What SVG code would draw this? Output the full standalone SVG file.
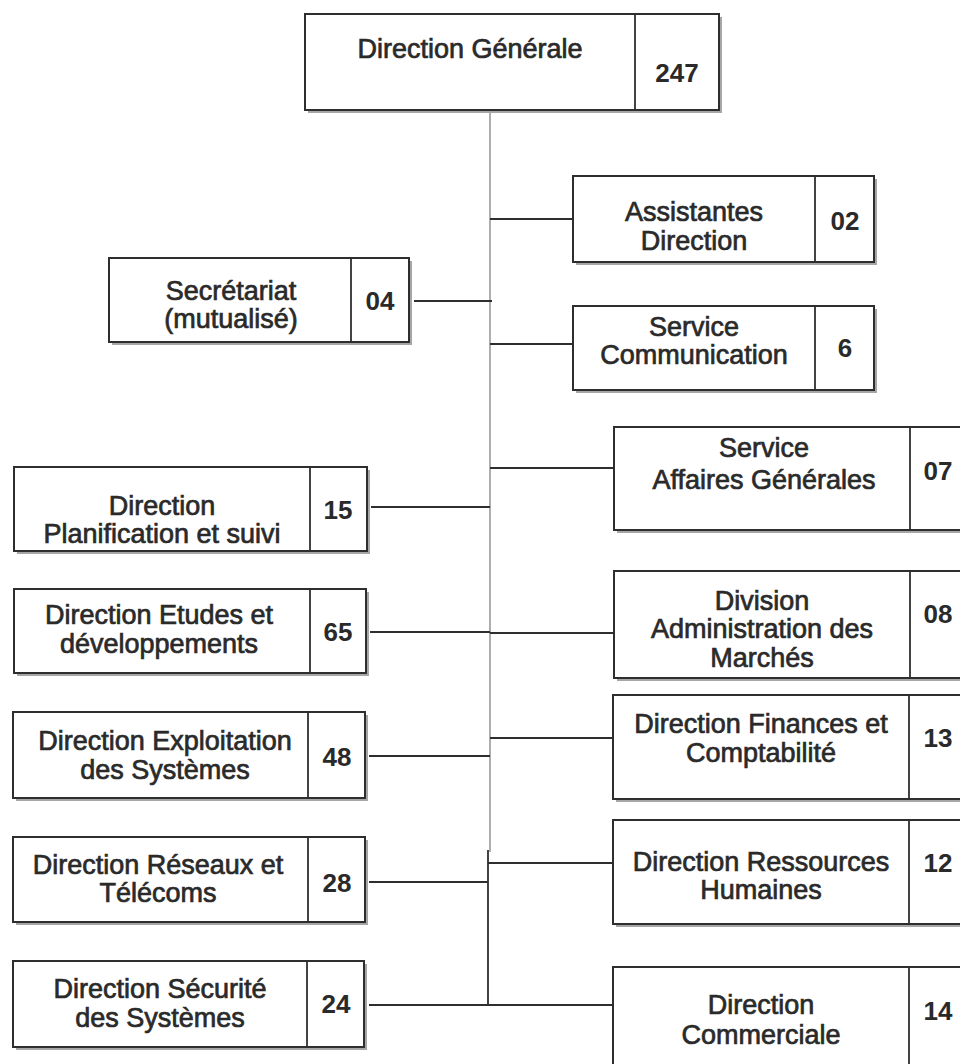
<svg xmlns="http://www.w3.org/2000/svg" width="960" height="1064" viewBox="0 0 960 1064">
  <style>
    .shadow { fill: #a6a6a6; }
    .box { fill: #ffffff; stroke: #2e2e2e; stroke-width: 2; }
    .div { stroke: #2e2e2e; stroke-width: 1.8; }
    .lbl { font-family: "Liberation Sans", Arial, sans-serif; font-size: 27px; fill: #2a2a2a; stroke: #2a2a2a; stroke-width: 0.7; text-anchor: middle; }
    .num { font-family: "Liberation Sans", Arial, sans-serif; font-size: 26px; font-weight: bold; fill: #2a2a2a; text-anchor: middle; }
    .trunk { stroke: #9a9a9a; stroke-width: 1.6; fill: none; }
    .trunk-dark { stroke: #2e2e2e; stroke-width: 1.8; fill: none; }
    .link { stroke: #2e2e2e; stroke-width: 2; fill: none; }
  </style>

  <rect width="960" height="1064" fill="#ffffff"/>

  <!-- connectors -->
  <g id="connectors">
    <line class="trunk" x1="490" y1="110" x2="490" y2="852"/>
    <line class="trunk-dark" x1="488" y1="850" x2="488" y2="1005"/>
    <!-- right side branches -->
    <line class="link" x1="490" y1="219" x2="573" y2="219"/>
    <line class="link" x1="490" y1="344" x2="573" y2="344"/>
    <line class="link" x1="490" y1="468" x2="614" y2="468"/>
    <line class="link" x1="490" y1="633" x2="614" y2="633"/>
    <line class="link" x1="490" y1="738" x2="613" y2="738"/>
    <line class="link" x1="488" y1="863" x2="613" y2="863"/>
    <line class="link" x1="488" y1="1005" x2="613" y2="1005"/>
    <!-- left side branches -->
    <line class="link" x1="414" y1="301" x2="492" y2="301"/>
    <line class="link" x1="371" y1="507" x2="490" y2="507"/>
    <line class="link" x1="370" y1="632" x2="490" y2="632"/>
    <line class="link" x1="369" y1="756" x2="490" y2="756"/>
    <line class="link" x1="369" y1="882" x2="488" y2="882"/>
    <line class="link" x1="369" y1="1005" x2="488" y2="1005"/>
  </g>

  <!-- Direction Générale -->
  <g id="n-dg">
    <rect class="shadow" x="308" y="17" width="414" height="96"/>
    <rect class="box" x="305" y="14" width="414" height="96"/>
    <line class="div" x1="635" y1="14" x2="635" y2="110"/>
    <text class="lbl" x="470" y="58">Direction Générale</text>
    <text class="num" x="677" y="82">247</text>
  </g>

  <!-- Assistantes Direction -->
  <g id="n-assistantes">
    <rect class="shadow" x="576" y="179" width="301" height="86"/>
    <rect class="box" x="573" y="176" width="301" height="86"/>
    <line class="div" x1="815" y1="176" x2="815" y2="262"/>
    <text class="lbl" x="694" y="221">Assistantes</text>
    <text class="lbl" x="694" y="250">Direction</text>
    <text class="num" x="845" y="230">02</text>
  </g>

  <!-- Secrétariat -->
  <g id="n-secretariat">
    <rect class="shadow" x="112" y="261" width="300" height="84"/>
    <rect class="box" x="109" y="258" width="300" height="84"/>
    <line class="div" x1="351" y1="258" x2="351" y2="342"/>
    <text class="lbl" x="231" y="300">Secrétariat</text>
    <text class="lbl" x="231" y="328">(mutualisé)</text>
    <text class="num" x="380" y="310">04</text>
  </g>

  <!-- Service Communication -->
  <g id="n-communication">
    <rect class="shadow" x="576" y="309" width="301" height="84"/>
    <rect class="box" x="573" y="306" width="301" height="84"/>
    <line class="div" x1="815" y1="306" x2="815" y2="390"/>
    <text class="lbl" x="694" y="336">Service</text>
    <text class="lbl" x="694" y="364">Communication</text>
    <text class="num" x="845" y="357">6</text>
  </g>

  <!-- Service Affaires Générales -->
  <g id="n-affaires">
    <rect class="shadow" x="617" y="430" width="356" height="103"/>
    <rect class="box" x="614" y="427" width="356" height="103"/>
    <line class="div" x1="910" y1="427" x2="910" y2="530"/>
    <text class="lbl" x="764" y="457">Service</text>
    <text class="lbl" x="764" y="489">Affaires Générales</text>
    <text class="num" x="938" y="480">07</text>
  </g>

  <!-- Direction Planification et suivi -->
  <g id="n-planification">
    <rect class="shadow" x="17" y="470" width="353" height="84"/>
    <rect class="box" x="14" y="467" width="353" height="84"/>
    <line class="div" x1="310" y1="467" x2="310" y2="551"/>
    <text class="lbl" x="162" y="515">Direction</text>
    <text class="lbl" x="162" y="543">Planification et suivi</text>
    <text class="num" x="338" y="519">15</text>
  </g>

  <!-- Direction Etudes et développements -->
  <g id="n-etudes">
    <rect class="shadow" x="17" y="592" width="352" height="84"/>
    <rect class="box" x="14" y="589" width="352" height="84"/>
    <line class="div" x1="310" y1="589" x2="310" y2="673"/>
    <text class="lbl" x="159" y="624">Direction Etudes et</text>
    <text class="lbl" x="159" y="653">développements</text>
    <text class="num" x="338" y="641">65</text>
  </g>

  <!-- Division Administration des Marchés -->
  <g id="n-marches">
    <rect class="shadow" x="617" y="574" width="356" height="107"/>
    <rect class="box" x="614" y="571" width="356" height="107"/>
    <line class="div" x1="910" y1="571" x2="910" y2="678"/>
    <text class="lbl" x="762" y="610">Division</text>
    <text class="lbl" x="762" y="638">Administration des</text>
    <text class="lbl" x="762" y="667">Marchés</text>
    <text class="num" x="938" y="623">08</text>
  </g>

  <!-- Direction Finances et Comptabilité -->
  <g id="n-finances">
    <rect class="shadow" x="616" y="698" width="356" height="104"/>
    <rect class="box" x="613" y="695" width="356" height="104"/>
    <line class="div" x1="909" y1="695" x2="909" y2="799"/>
    <text class="lbl" x="761" y="733">Direction Finances et</text>
    <text class="lbl" x="761" y="762">Comptabilité</text>
    <text class="num" x="938" y="747">13</text>
  </g>

  <!-- Direction Exploitation des Systèmes -->
  <g id="n-exploitation">
    <rect class="shadow" x="16" y="715" width="352" height="86"/>
    <rect class="box" x="13" y="712" width="352" height="86"/>
    <line class="div" x1="308" y1="712" x2="308" y2="798"/>
    <text class="lbl" x="165" y="750">Direction Exploitation</text>
    <text class="lbl" x="165" y="779">des Systèmes</text>
    <text class="num" x="337" y="766">48</text>
  </g>

  <!-- Direction Ressources Humaines -->
  <g id="n-rh">
    <rect class="shadow" x="616" y="823" width="356" height="104"/>
    <rect class="box" x="613" y="820" width="356" height="104"/>
    <line class="div" x1="909" y1="820" x2="909" y2="924"/>
    <text class="lbl" x="761" y="871">Direction Ressources</text>
    <text class="lbl" x="761" y="899">Humaines</text>
    <text class="num" x="938" y="872">12</text>
  </g>

  <!-- Direction Réseaux et Télécoms -->
  <g id="n-reseaux">
    <rect class="shadow" x="16" y="840" width="352" height="85"/>
    <rect class="box" x="13" y="837" width="352" height="85"/>
    <line class="div" x1="308" y1="837" x2="308" y2="922"/>
    <text class="lbl" x="158" y="874">Direction Réseaux et</text>
    <text class="lbl" x="158" y="902">Télécoms</text>
    <text class="num" x="337" y="892">28</text>
  </g>

  <!-- Direction Sécurité des Systèmes -->
  <g id="n-securite">
    <rect class="shadow" x="16" y="964" width="351" height="86"/>
    <rect class="box" x="13" y="961" width="351" height="86"/>
    <line class="div" x1="307" y1="961" x2="307" y2="1047"/>
    <text class="lbl" x="160" y="998">Direction Sécurité</text>
    <text class="lbl" x="160" y="1027">des Systèmes</text>
    <text class="num" x="336" y="1013">24</text>
  </g>

  <!-- Direction Commerciale -->
  <g id="n-commerciale">
    <rect class="shadow" x="616" y="970" width="356" height="110"/>
    <rect class="box" x="613" y="967" width="356" height="110"/>
    <line class="div" x1="909" y1="967" x2="909" y2="1077"/>
    <text class="lbl" x="761" y="1014">Direction</text>
    <text class="lbl" x="761" y="1044">Commerciale</text>
    <text class="num" x="938" y="1020">14</text>
  </g>
</svg>
